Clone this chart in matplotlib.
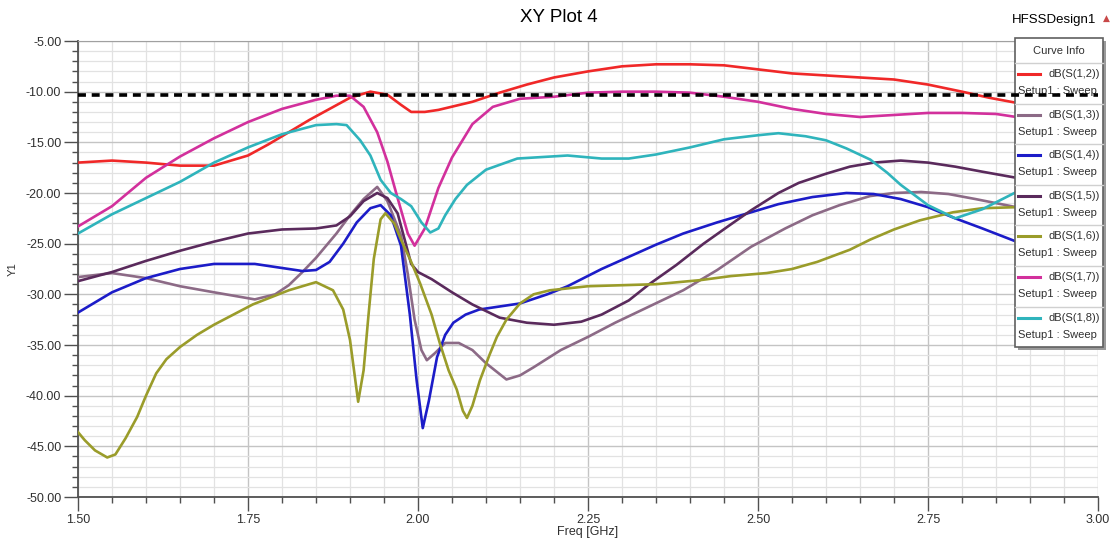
import matplotlib
matplotlib.use("Agg")
import matplotlib.pyplot as plt
from matplotlib.patches import Rectangle
from matplotlib.ticker import MultipleLocator, FormatStrFormatter

# --- data (freq in GHz, value in dB) ---
f_s12 = [1.50, 1.55, 1.60, 1.65, 1.70, 1.75, 1.78, 1.81, 1.84, 1.87, 1.90, 1.93, 1.955,
         1.975, 1.99, 2.01, 2.03, 2.08, 2.12, 2.16, 2.20, 2.25, 2.30, 2.35, 2.40, 2.45,
         2.50, 2.55, 2.60, 2.65, 2.70, 2.75, 2.80, 2.84, 2.88]
s12 = [-17.0, -16.8, -17.0, -17.3, -17.3, -16.3, -15.2, -14.0, -12.8, -11.7, -10.6, -10.0, -10.3,
       -11.3, -12.0, -12.0, -11.8, -11.0, -10.1, -9.3, -8.6, -8.0, -7.5, -7.3, -7.3, -7.4,
       -7.8, -8.2, -8.4, -8.6, -8.8, -9.3, -10.0, -10.6, -11.1]

f_s13 = [1.50, 1.55, 1.60, 1.65, 1.70, 1.76, 1.79, 1.81, 1.83, 1.85, 1.88, 1.90, 1.92, 1.94,
         1.955, 1.975, 1.985, 1.995, 2.005, 2.013, 2.025, 2.04, 2.06, 2.08, 2.10, 2.13, 2.15,
         2.17, 2.21, 2.25, 2.29, 2.34, 2.39, 2.44, 2.49, 2.54, 2.58, 2.62, 2.665, 2.70, 2.74,
         2.78, 2.82, 2.88]
s13 = [-28.3, -27.9, -28.4, -29.2, -29.8, -30.5, -30.0, -29.1, -27.8, -26.4, -24.0, -22.2, -20.6, -19.4,
       -20.8, -24.2, -28.0, -32.5, -35.5, -36.5, -35.8, -34.8, -34.8, -35.5, -36.8, -38.4, -38.0,
       -37.2, -35.5, -34.2, -32.8, -31.2, -29.6, -27.6, -25.3, -23.5, -22.2, -21.2, -20.3, -20.0, -19.9,
       -20.1, -20.6, -21.4]

f_s14 = [1.50, 1.55, 1.60, 1.65, 1.70, 1.76, 1.80, 1.83, 1.85, 1.87, 1.89, 1.91, 1.93, 1.945,
         1.96, 1.975, 1.988, 1.998, 2.007, 2.016, 2.028, 2.04, 2.052, 2.07, 2.09, 2.12, 2.15,
         2.19, 2.22, 2.27, 2.30, 2.35, 2.39, 2.44, 2.49, 2.53, 2.58, 2.63, 2.67, 2.71, 2.75,
         2.79, 2.83, 2.88]
s14 = [-31.8, -29.8, -28.4, -27.5, -27.0, -27.0, -27.4, -27.7, -27.6, -26.8, -25.0, -22.9, -21.5, -21.2,
       -22.2, -25.2, -32.0, -38.5, -43.2, -40.5, -36.2, -34.0, -32.8, -32.0, -31.5, -31.2, -30.9,
       -30.0, -29.2, -27.5, -26.6, -25.1, -24.0, -22.9, -21.9, -21.1, -20.4, -20.0, -20.1, -20.6, -21.4,
       -22.5, -23.5, -24.8]

f_s15 = [1.50, 1.55, 1.60, 1.65, 1.70, 1.75, 1.80, 1.85, 1.88, 1.90, 1.92, 1.94, 1.955, 1.97,
         1.98, 1.99, 2.00, 2.02, 2.05, 2.08, 2.12, 2.16, 2.20, 2.24, 2.27, 2.31, 2.34, 2.38,
         2.42, 2.46, 2.49, 2.53, 2.56, 2.60, 2.635, 2.67, 2.71, 2.75, 2.79, 2.83, 2.88]
s15 = [-28.7, -27.8, -26.7, -25.7, -24.8, -24.0, -23.6, -23.5, -23.2, -22.3, -20.8, -20.0, -20.5, -22.0,
       -24.5, -27.0, -27.8, -28.5, -29.8, -31.0, -32.3, -32.8, -33.0, -32.7, -32.0, -30.6, -29.0, -27.1,
       -25.0, -23.1, -21.7, -20.0, -19.0, -18.1, -17.4, -17.0, -16.8, -17.0, -17.4, -17.9, -18.5]

f_s16 = [1.50, 1.51, 1.525, 1.543, 1.555, 1.57, 1.587, 1.60, 1.615, 1.63, 1.65, 1.675, 1.70,
         1.757, 1.81, 1.85, 1.875, 1.89, 1.90, 1.912, 1.92, 1.927, 1.935, 1.945, 1.952, 1.965,
         1.975, 1.99, 2.003, 2.02, 2.032, 2.045, 2.057, 2.066, 2.072, 2.08, 2.091, 2.105, 2.116,
         2.13, 2.15, 2.17, 2.194, 2.25, 2.30, 2.35, 2.415, 2.46, 2.513, 2.55, 2.587, 2.635,
         2.665, 2.70, 2.738, 2.787, 2.83, 2.88]
s16 = [-43.6, -44.4, -45.4, -46.1, -45.8, -44.2, -42.1, -40.0, -37.8, -36.4, -35.2, -34.0, -33.0,
       -31.0, -29.6, -28.8, -29.6, -31.5, -34.5, -40.6, -37.5, -32.2, -26.5, -22.6, -22.0, -23.0,
       -24.6, -26.8, -28.9, -32.0, -34.8, -37.5, -39.4, -41.5, -42.2, -41.0, -38.5, -36.0, -34.2,
       -32.5, -30.9, -30.0, -29.6, -29.2, -29.1, -29.0, -28.6, -28.2, -27.9, -27.5, -26.8, -25.6,
       -24.6, -23.6, -22.7, -21.9, -21.5, -21.4]

f_s17 = [1.50, 1.55, 1.60, 1.65, 1.70, 1.75, 1.80, 1.85, 1.88, 1.90, 1.92, 1.94, 1.955, 1.97,
         1.985, 1.995, 2.01, 2.03, 2.05, 2.08, 2.11, 2.15, 2.20, 2.25, 2.30, 2.35, 2.40, 2.45,
         2.50, 2.55, 2.60, 2.65, 2.70, 2.75, 2.80, 2.85, 2.88]
s17 = [-23.3, -21.3, -18.5, -16.4, -14.6, -13.0, -11.7, -10.8, -10.4, -10.4, -11.5, -14.0, -16.9, -20.5,
       -24.0, -25.2, -23.5, -19.5, -16.5, -13.2, -11.5, -10.7, -10.5, -10.1, -10.0, -10.0, -10.1, -10.5,
       -11.0, -11.7, -12.2, -12.5, -12.3, -12.1, -12.1, -12.2, -12.5]

f_s18 = [1.50, 1.55, 1.60, 1.65, 1.70, 1.75, 1.80, 1.85, 1.88, 1.895, 1.915, 1.93, 1.945, 1.96,
         1.975, 1.99, 2.005, 2.018, 2.03, 2.04, 2.055, 2.072, 2.10, 2.146, 2.22, 2.27, 2.31,
         2.35, 2.40, 2.45, 2.50, 2.53, 2.57, 2.60, 2.63, 2.665, 2.69, 2.71, 2.75, 2.79, 2.83, 2.88]
s18 = [-24.0, -22.1, -20.5, -18.9, -17.0, -15.5, -14.2, -13.3, -13.2, -13.3, -14.8, -16.3, -18.7, -20.0,
       -20.6, -21.3, -22.9, -23.9, -23.5, -22.2, -20.6, -19.2, -17.7, -16.6, -16.3, -16.6, -16.6,
       -16.2, -15.5, -14.7, -14.3, -14.1, -14.4, -14.8, -15.6, -16.7, -18.0, -19.2, -21.2, -22.5, -21.6, -19.9]

series_freqs = [f_s12, f_s13, f_s14, f_s15, f_s16, f_s17, f_s18]
series_values = [s12, s13, s14, s15, s16, s17, s18]
series_names = ["dB(S(1,2))", "dB(S(1,3))", "dB(S(1,4))", "dB(S(1,5))",
                "dB(S(1,6))", "dB(S(1,7))", "dB(S(1,8))"]
series_colors = ["#f02828", "#8c6a86", "#1c1cc8", "#5a2a5c",
                 "#9a9c2a", "#d2309c", "#2fb4bc"]
threshold_db = -10.3

plt.rcParams["font.family"] = ["Liberation Sans", "DejaVu Sans"]

W, H = 1118, 542
fig = plt.figure(figsize=(W / 100, H / 100), dpi=100)
ax = fig.add_axes([78 / W, 1 - 497 / H, (1098 - 78) / W, (497 - 41) / H])

for fr, vals, col in zip(series_freqs, series_values, series_colors):
    ax.plot(fr, vals, color=col, lw=1.9, zorder=3, solid_joinstyle="round")

ax.axhline(threshold_db, color="black", lw=2.6, ls=(0, (2.2, 1.6)), zorder=10)

ax.set_xlim(1.5, 3.0)
ax.set_ylim(-50, -5)
ax.xaxis.set_major_locator(MultipleLocator(0.25))
ax.xaxis.set_minor_locator(MultipleLocator(0.05))
ax.yaxis.set_major_locator(MultipleLocator(5))
ax.yaxis.set_minor_locator(MultipleLocator(1))
ax.xaxis.set_major_formatter(FormatStrFormatter("%.2f"))
ax.yaxis.set_major_formatter(FormatStrFormatter("%.2f"))
ax.grid(which="minor", color="#e2e2e2", lw=0.9)
ax.grid(which="major", color="#c4c4c4", lw=1.0)
ax.set_axisbelow(True)
ax.tick_params(which="major", direction="out", length=10, width=1, color="#505050",
               labelsize=9, labelcolor="#303030", pad=2)
ax.tick_params(which="minor", direction="out", length=4, width=1, color="#505050")
for side in ["left", "bottom"]:
    ax.spines[side].set_color("#505050")
    ax.spines[side].set_linewidth(1.3)
ax.spines["top"].set_color("#a0a0a0")
ax.spines["right"].set_visible(False)

ax.set_xlabel("Freq [GHz]", fontsize=9, color="#303030", labelpad=0)
ax.set_ylabel("Y1", fontsize=8, color="#303030", labelpad=6)

fig.text(0.5, 1 - 18 / H, "XY Plot 4", ha="center", va="center", fontsize=13.5)
fig.text(1096 / W, 1 - 20 / H, "HFSSDesign1", ha="right", va="center", fontsize=9.5)
fig.text(1106 / W, 1 - 18 / H, "\u25b2", ha="center", va="center", fontsize=6.5,
         color="#c84848", family="DejaVu Sans")

# legend box ("Curve Info"), drawn inside the axes so the threshold line sits on top
tf = fig.transFigure
lx0, lx1 = 1015 / W, 1103 / W
ly_top, ly_bot = 1 - 38 / H, 1 - 347 / H
ax.add_patch(Rectangle((lx0 + 3 / W, ly_bot - 3 / H), lx1 - lx0, ly_top - ly_bot, transform=tf,
                       facecolor="#9a9a9a", edgecolor="none", clip_on=False, zorder=5))
ax.add_patch(Rectangle((lx0, ly_bot), lx1 - lx0, ly_top - ly_bot, transform=tf,
                       facecolor="white", edgecolor="#606060", lw=1.2, clip_on=False, zorder=6))
ax.text((lx0 + lx1) / 2, 1 - 51 / H, "Curve Info", transform=tf, ha="center", va="center",
        fontsize=8, color="#303030", zorder=7)
row = 40.6
for k, (name, col) in enumerate(zip(series_names, series_colors)):
    sep_y = 1 - (63 + row * k) / H
    ax.plot([lx0, lx1], [sep_y, sep_y], transform=tf, color="#d0d0d0", lw=1,
            clip_on=False, zorder=7)
    y1 = 1 - (74 + row * k) / H
    y2 = 1 - (91 + row * k) / H
    ax.plot([1018 / W, 1040 / W], [y1, y1], transform=tf, color=col, lw=2.2,
            clip_on=False, zorder=7)
    ax.text(1100 / W, y1, name, transform=tf, ha="right", va="center",
            fontsize=8, color="#303030", zorder=7)
    ax.text(1018 / W, y2, "Setup1 : Sweep", transform=tf, ha="left", va="center",
            fontsize=8, color="#303030", zorder=7)

fig.savefig("out.png", dpi=100)
